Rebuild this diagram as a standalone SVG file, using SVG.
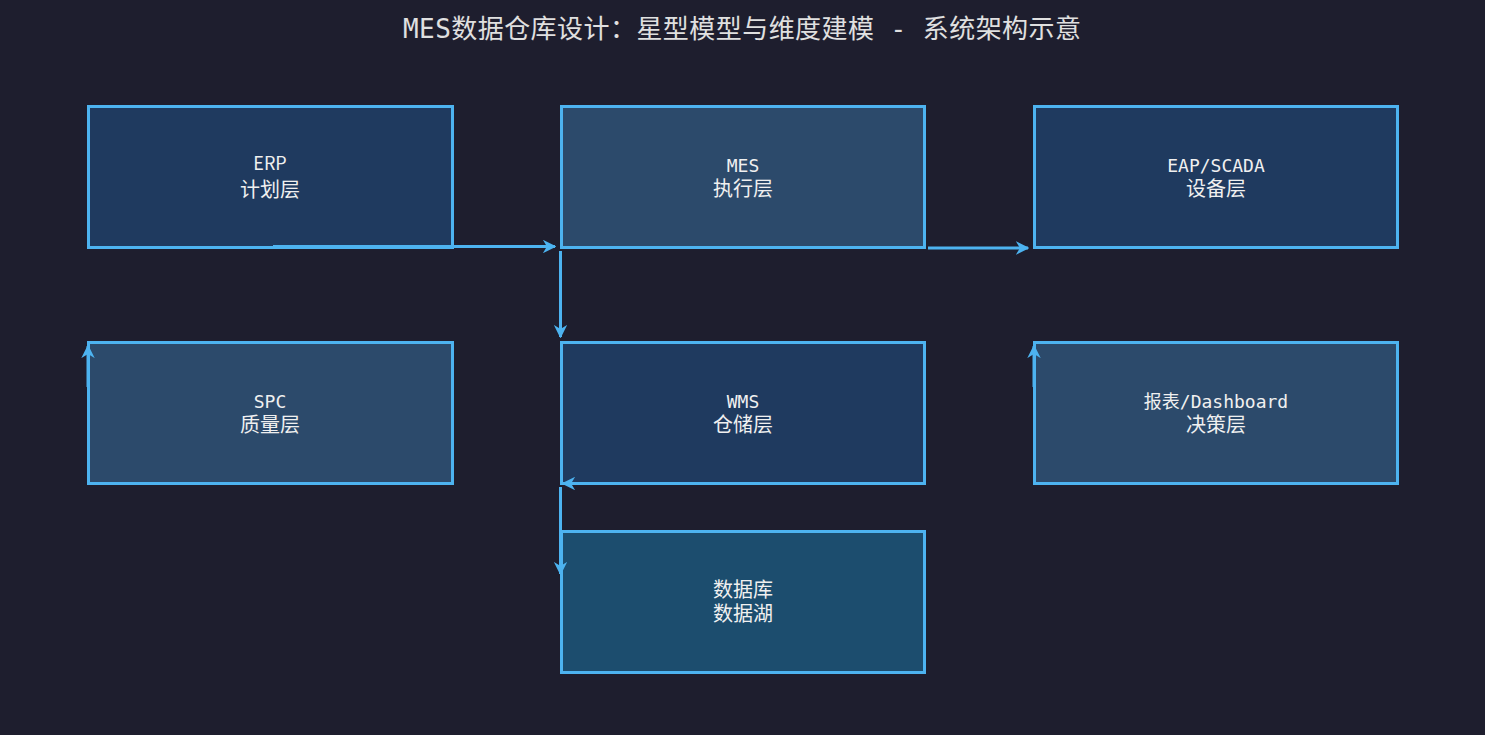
<svg xmlns="http://www.w3.org/2000/svg" width="1485" height="735" viewBox="0 0 1485 735">
<defs>
<style>
.bg{fill:#1e1e2e}
.box{stroke:#4db3f0;stroke-width:3}
.a{fill:#1f3a5f}
.b{fill:#2c4a6b}
.c{fill:#1c4d6e}
.t{font-family:"DejaVu Sans Mono","Noto Sans CJK SC",monospace;fill:#f0f0f0;text-anchor:middle}
.l1{font-size:18px}
.l2{font-size:20px}
.sans{font-family:"Noto Sans CJK SC","Noto Sans",sans-serif}
.title{font-family:"DejaVu Sans Mono","Noto Sans CJK SC",monospace;font-size:26px;fill:#e0e0e0;text-anchor:middle}
.conn{stroke:#4db3f0;stroke-width:3;fill:none;marker-end:url(#arr)}
</style>
<marker id="arr" viewBox="0 0 10 10" refX="9" refY="5" markerWidth="4.5" markerHeight="4.5" orient="auto" markerUnits="strokeWidth">
<path d="M0,0 L10,5 L0,10 L3,5 Z" fill="#4db3f0"/>
</marker>
</defs>
<rect class="bg" x="0" y="0" width="1485" height="735"/>
<text class="title" x="742" y="38" textLength="678" lengthAdjust="spacing">MES数据仓库设计：星型模型与维度建模 - 系统架构示意</text>

<g id="node-erp">
<rect class="box a" x="88.5" y="106.5" width="364" height="141"/>
<text class="t sans l1" x="270" y="170">ERP</text>
<text class="t sans l2" x="270" y="197">计划层</text>
</g>
<g id="node-mes">
<rect class="box b" x="561.5" y="106.5" width="363" height="141"/>
<text class="t l1" x="743" y="172">MES</text>
<text class="t l2" x="743" y="196">执行层</text>
</g>
<g id="node-eap">
<rect class="box a" x="1034.5" y="106.5" width="363" height="141"/>
<text class="t l1" x="1216" y="172">EAP/SCADA</text>
<text class="t l2" x="1216" y="196">设备层</text>
</g>
<g id="node-spc">
<rect class="box b" x="88.5" y="342.5" width="364" height="141"/>
<text class="t l1" x="270" y="408">SPC</text>
<text class="t l2" x="270" y="432">质量层</text>
</g>
<g id="node-wms">
<rect class="box a" x="561.5" y="342.5" width="363" height="141"/>
<text class="t l1" x="743" y="408">WMS</text>
<text class="t l2" x="743" y="432">仓储层</text>
</g>
<g id="node-report">
<rect class="box b" x="1034.5" y="342.5" width="363" height="141"/>
<text class="t l1" x="1216" y="408">报表/Dashboard</text>
<text class="t l2" x="1216" y="432">决策层</text>
</g>
<g id="node-db">
<rect class="box c" x="561.5" y="531.5" width="363" height="141"/>
<text class="t l2" x="743" y="597">数据库</text>
<text class="t l2" x="743" y="621">数据湖</text>
</g>

<g id="connectors">
<path class="conn" d="M273,246.5 L555,246.5"/>
<path class="conn" d="M928,248 L1028,248"/>
<path class="conn" d="M560.5,251 L560.5,337"/>
<path class="conn" d="M88,387 L88,346"/>
<path class="conn" d="M1034,387 L1034,346"/>
<path class="conn" d="M921,483.5 L563,483.5"/>
<path class="conn" d="M560.5,487 L560.5,574"/>
</g>
</svg>
